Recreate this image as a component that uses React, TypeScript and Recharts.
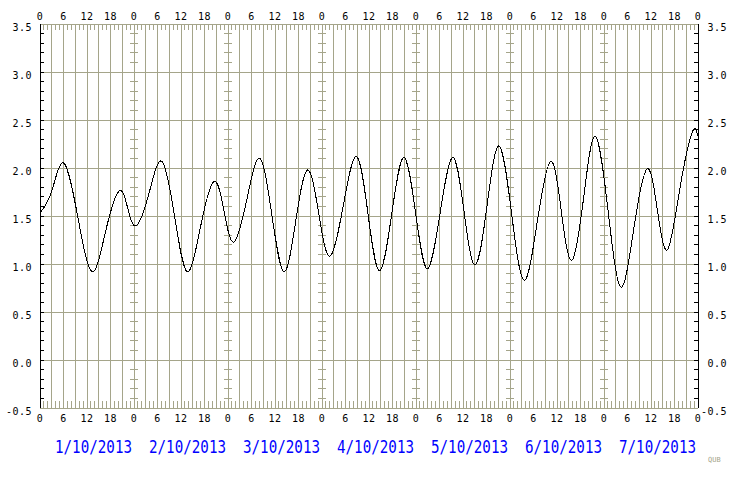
import { LineChart, Line, XAxis, YAxis, ReferenceLine } from 'recharts'

// tide level readings (hour since 1/10/2013 00:00, level in m)
const hours = [
  0, 3, 6.1, 9.7, 13.3, 16.75, 20.2, 22.4, 24.6, 27.85,
  31.1, 34.35, 37.6, 41, 44.4, 47, 49.5, 52.8, 56.1, 59.2,
  62.3, 65.3, 68.3, 71.15, 74, 77.4, 80.8, 83.75, 86.7, 89.8,
  92.9, 95.9, 98.9, 102.15, 105.4, 108.25, 111.1, 114.15, 117.2, 120.4,
  123.6, 127, 130.4, 133.1, 135.8, 138.8, 141.8, 145.05, 148.3, 151.65,
  155, 157.6, 160.2, 163.35, 166.5, 168,
]
const levels = [
  1.53, 1.76, 2.05, 1.48, 0.92, 1.34, 1.76, 1.58, 1.40, 1.74,
  2.07, 1.50, 0.92, 1.39, 1.86, 1.55, 1.23, 1.67, 2.10, 1.51,
  0.92, 1.45, 1.98, 1.53, 1.08, 1.60, 2.12, 1.52, 0.93, 1.52,
  2.11, 1.53, 0.95, 1.53, 2.11, 1.55, 0.99, 1.61, 2.23, 1.53,
  0.83, 1.45, 2.07, 1.55, 1.04, 1.69, 2.33, 1.55, 0.76, 1.38,
  1.99, 1.57, 1.15, 1.78, 2.37, 2.33,
]
const dates = ['1/10/2013', '2/10/2013', '3/10/2013', '4/10/2013', '5/10/2013', '6/10/2013', '7/10/2013']
const dayMid = [12, 36, 60, 84, 108, 132, 156]
const hourTicks = [0, 6, 12, 18, 24, 30, 36, 42, 48, 54, 60, 66, 72, 78, 84, 90, 96, 102, 108, 114, 120, 126, 132, 138, 144, 150, 156, 162, 168]
const levelTicks = [-0.5, 0, 0.5, 1, 1.5, 2, 2.5, 3, 3.5]
const dayBounds = [24, 48, 72, 96, 120, 144]

const GRID = '#a5a58a'
const MONO = '"DejaVu Sans Mono", monospace'

const data = hours.map((h, i) => ({ h, v: levels[i] }))

const everyHour = Array.from({ length: 169 }, (_, i) => i)
const threeHourly = Array.from({ length: 55 }, (_, i) => (i + 1) * 3)
const tenths = Array.from({ length: 39 }, (_, i) => +(-0.4 + i * 0.1).toFixed(1))

function seg(key: string, x1: number, y1: number, x2: number, y2: number, color = GRID) {
  return (
    <ReferenceLine
      key={key}
      xAxisId="h"
      yAxisId="l"
      segment={[{ x: x1, y: y1 }, { x: x2, y: y2 }]}
      stroke={color}
      strokeWidth={1}
      ifOverflow="visible"
    />
  )
}

const HourTick = ({ x, y, payload, top }: any) => (
  <text x={x} y={top ? y - 4 : y + 14} textAnchor="middle" fontSize={10} letterSpacing={0.5}
    fontFamily={MONO} fill="#000">
    {payload.value % 24}
  </text>
)

const DateTick = ({ x, y, index }: any) => (
  <text x={x + 6.5} y={y + 23} textAnchor="middle" fontSize={18} fontFamily={MONO}
    fill="#0000ff" textLength={77} lengthAdjust="spacingAndGlyphs">
    {dates[index]}
  </text>
)

const LevelTick = ({ x, y, payload, right }: any) => (
  <text x={right ? x + 29 : x - 8} y={y + 7} textAnchor="end" fontSize={10} letterSpacing={0.5}
    fontFamily={MONO} fill="#000">
    {payload.value.toFixed(1)}
  </text>
)

export default function App() {
  return (
    <div style={{ position: 'absolute', left: 0, top: 0, width: 740, height: 480, background: '#fff', shapeRendering: 'crispEdges' }}>
      <LineChart width={740} height={480} data={data} margin={{ top: 0, right: 0, bottom: 0, left: 0 }}>
        <XAxis xAxisId="h" dataKey="h" type="number" orientation="top" height={24} domain={[0, 168]}
          allowDataOverflow ticks={hourTicks} interval={0} tickSize={0} tickMargin={0}
          axisLine={false} tickLine={false} tick={<HourTick top />} />
        <XAxis xAxisId="b" dataKey="h" type="number" orientation="bottom" height={22} domain={[0, 168]}
          allowDataOverflow ticks={hourTicks} interval={0} tickSize={0} tickMargin={0}
          axisLine={false} tickLine={false} tick={<HourTick />} />
        <XAxis xAxisId="d" dataKey="h" type="number" orientation="bottom" height={50} domain={[0, 168]}
          allowDataOverflow ticks={dayMid} interval={0} tickSize={0} tickMargin={0}
          axisLine={false} tickLine={false} tick={<DateTick />} />
        <YAxis yAxisId="l" type="number" width={40} domain={[-0.5, 3.5]} allowDataOverflow
          ticks={levelTicks} interval={0} tickSize={0} tickMargin={0} tickLine={false}
          axisLine={{ stroke: '#000' }} tick={<LevelTick />} />
        <YAxis yAxisId="r" type="number" orientation="right" width={42} domain={[-0.5, 3.5]} allowDataOverflow
          ticks={levelTicks} interval={0} tickSize={0} tickMargin={0} tickLine={false}
          axisLine={{ stroke: '#000' }} tick={<LevelTick right />} />

        {threeHourly.map(h => seg(`vg${h}`, h, -0.5, h, 3.5))}
        {levelTicks.map(v => seg(`hg${v}`, 0, v, 168, v))}
        {everyHour.map(h => seg(`tt${h}`, h, 3.5, h, 3.4375))}
        {everyHour.map(h => seg(`bt${h}`, h, -0.5, h, -0.425))}
        {dayBounds.flatMap(d => tenths.map(v => seg(`dt${d}_${v}`, d - 1, v, d + 1, v)))}
        {tenths.map(v => seg(`lt${v}`, 0, v, 0.9, v, '#000'))}
        {tenths.map(v => seg(`rt${v}`, 167.1, v, 168, v, '#000'))}

        <Line xAxisId="h" yAxisId="l" dataKey="v" type="natural" stroke="#000" strokeWidth={1}
          dot={false} isAnimationActive={false} />
      </LineChart>
      <div style={{ position: 'absolute', left: 708, top: 457, fontSize: 7, lineHeight: 1, fontFamily: MONO, color: GRID }}>QUB</div>
    </div>
  )
}
